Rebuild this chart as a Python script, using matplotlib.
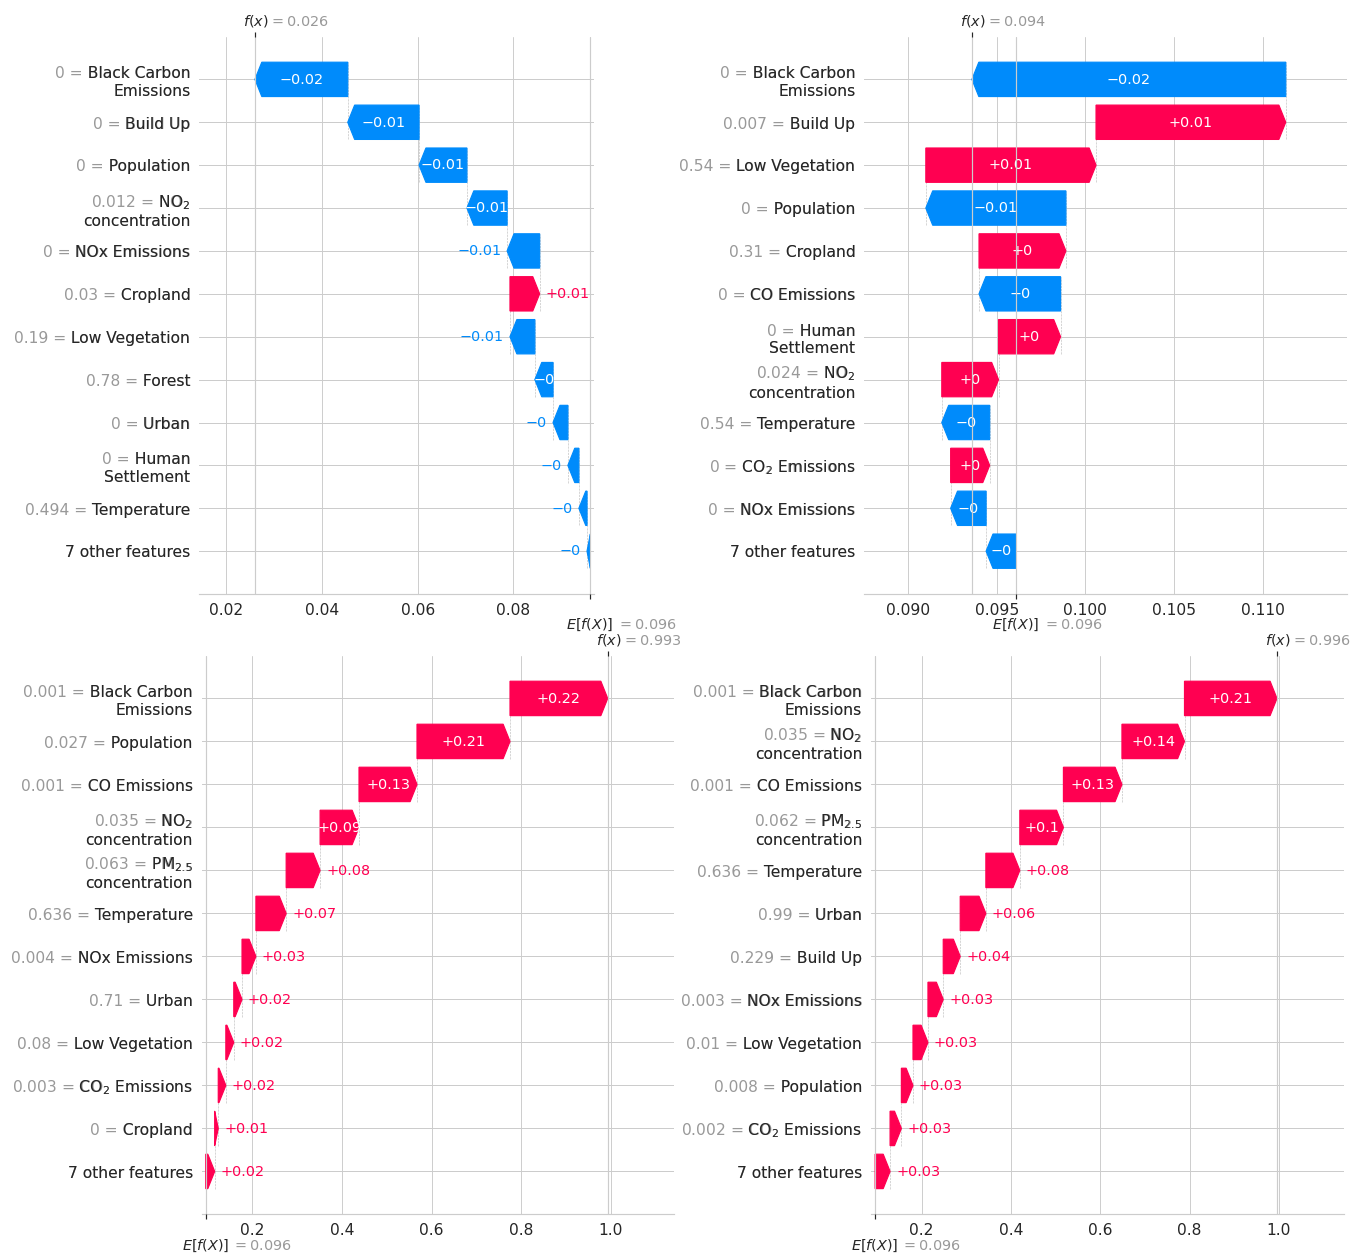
import re
import matplotlib
matplotlib.use("Agg")
import matplotlib.pyplot as plt
import numpy as np

plt.style.use("seaborn-v0_8-whitegrid")
plt.rcParams["font.family"] = "DejaVu Sans"
plt.rcParams["mathtext.fontset"] = "dejavusans"

RED = "#ff0051"
BLUE = "#008bfb"
GRAY = "#999999"
DARK = "#262626"

base_value = 0.0961
n_other = 7

# panel a (top left) - rows listed top to bottom
names_a = ["Black Carbon\nEmissions", "Build Up", "Population", "NO$_2$\nconcentration",
           "NOx Emissions", "Cropland", "Low Vegetation", "Forest", "Urban",
           "Human\nSettlement", "Temperature"]
data_a = ["0", "0", "0", "0.012", "0", "0.03", "0.19", "0.78", "0", "0", "0.494"]
shap_a = [-0.0194, -0.0149, -0.0100, -0.0084, -0.0068, 0.0062, -0.0052, -0.0038,
          -0.0031, -0.0023, -0.0017]
other_a = -0.0007

# panel b (top right)
names_b = ["Black Carbon\nEmissions", "Build Up", "Low Vegetation", "Population", "Cropland",
           "CO Emissions", "Human\nSettlement", "NO$_2$\nconcentration", "Temperature",
           "CO$_2$ Emissions", "NOx Emissions"]
data_b = ["0", "0.007", "0.54", "0", "0.31", "0", "0", "0.024", "0.54", "0", "0"]
shap_b = [-0.0177, 0.0107, 0.0096, -0.0079, 0.0049, -0.0046, 0.0035, 0.0032, -0.0027,
          0.0022, -0.0020]
other_b = -0.0017

# panel c (bottom left)
names_c = ["Black Carbon\nEmissions", "Population", "CO Emissions", "NO$_2$\nconcentration",
           "PM$_{2.5}$\nconcentration", "Temperature", "NOx Emissions", "Urban",
           "Low Vegetation", "CO$_2$ Emissions", "Cropland"]
data_c = ["0.001", "0.027", "0.001", "0.035", "0.063", "0.636", "0.004", "0.71", "0.08",
          "0.003", "0"]
shap_c = [0.2180, 0.2075, 0.1294, 0.0868, 0.0757, 0.0675, 0.0310, 0.0184, 0.0177, 0.0169,
          0.0080]
other_c = 0.0199

# panel d (bottom right)
names_d = ["Black Carbon\nEmissions", "NO$_2$\nconcentration", "CO Emissions",
           "PM$_{2.5}$\nconcentration", "Temperature", "Urban", "Build Up", "NOx Emissions",
           "Low Vegetation", "Population", "CO$_2$ Emissions"]
data_d = ["0.001", "0.035", "0.001", "0.062", "0.636", "0.99", "0.229", "0.003", "0.01",
          "0.008", "0.002"]
shap_d = [0.2070, 0.1400, 0.1310, 0.0976, 0.0760, 0.0574, 0.0380, 0.0342, 0.0335, 0.0260,
          0.0253]
other_d = 0.0335

W, H, DPI = 1353, 1255, 86


def format_value(v, fmt):
    s = fmt % v
    s = re.sub(r"\.?0+$", "", s)
    if s[0] == "-":
        s = "\u2212" + s[1:]
    return s


def px_box(left, right, top, bottom):
    return [left / W, 1 - bottom / H, (right - left) / W, (bottom - top) / H]


def waterfall(ax, values, names, data, other, base):
    fig = ax.figure
    num = len(values) + 1
    rng = list(range(num - 1, -1, -1))
    fx = base + sum(values) + other
    loc = fx
    pos_lefts, pos_inds, pos_widths = [], [], []
    neg_lefts, neg_inds, neg_widths = [], [], []
    labels = [""] * num

    for i, sval in enumerate(values):
        loc -= sval
        if sval >= 0:
            pos_inds.append(rng[i])
            pos_widths.append(sval)
            pos_lefts.append(loc)
        else:
            neg_inds.append(rng[i])
            neg_widths.append(sval)
            neg_lefts.append(loc)
        ax.plot([loc, loc], [rng[i] - 1.4, rng[i] + 0.4], color="#bbbbbb",
                linestyle="--", linewidth=0.5, zorder=-1)
        labels[rng[i]] = data[i] + " = " + names[i]

    # grouped bar for the remaining features
    labels[0] = "%d other features" % n_other
    remaining = base - loc
    if remaining < 0:
        pos_inds.append(0)
        pos_widths.append(-remaining)
        pos_lefts.append(loc + remaining)
    else:
        neg_inds.append(0)
        neg_widths.append(-remaining)
        neg_lefts.append(loc + remaining)

    pos_lefts, pos_widths = np.array(pos_lefts), np.array(pos_widths)
    neg_lefts, neg_widths = np.array(neg_lefts), np.array(neg_widths)
    points = list(pos_lefts) + list(pos_lefts + pos_widths) + list(neg_lefts) + list(neg_lefts + neg_widths)
    dataw = max(points) - min(points)

    # invisible bars only used to size the x axis
    pad = np.array([0.1 * dataw if w < 1 else 0 for w in pos_widths])
    ax.barh(pos_inds, pos_widths + pad + 0.02 * dataw, left=pos_lefts - 0.01 * dataw,
            color=RED, alpha=0)
    pad = np.array([-0.1 * dataw if -w < 1 else 0 for w in neg_widths])
    ax.barh(neg_inds, neg_widths + pad - 0.02 * dataw, left=neg_lefts + 0.01 * dataw,
            color=BLUE, alpha=0)

    xmin, xmax = ax.get_xlim()
    ax.set_xlim(xmin, xmax)
    bbox = ax.get_window_extent().transformed(fig.dpi_scale_trans.inverted())
    to_x = (xmax - xmin) / bbox.width
    hl = to_x * 0.08
    renderer = fig.canvas.get_renderer()
    slack = 1.22

    for left, y, w in zip(pos_lefts, pos_inds, pos_widths):
        arr = ax.arrow(left, y, max(w - hl, 1e-6), 0, head_length=min(w, hl),
                       color=RED, width=0.8, head_width=0.8)
        lab = format_value(w, "%+0.02f")
        txt = ax.text(left + 0.5 * w, y, lab, ha="center", va="center", color="white", fontsize=12)
        if txt.get_window_extent(renderer).width > slack * arr.get_window_extent(renderer).width:
            txt.remove()
            ax.text(left + 5 / 72 * to_x + w, y, lab, ha="left", va="center",
                    color=RED, fontsize=12)

    for left, y, w in zip(neg_lefts, neg_inds, neg_widths):
        arr = ax.arrow(left, y, -max(-w - hl, 1e-6), 0, head_length=min(-w, hl),
                       color=BLUE, width=0.8, head_width=0.8)
        lab = format_value(w, "%+0.02f")
        txt = ax.text(left + 0.5 * w, y, lab, ha="center", va="center", color="white", fontsize=12)
        if txt.get_window_extent(renderer).width > slack * arr.get_window_extent(renderer).width:
            txt.remove()
            ax.text(left - 5 / 72 * to_x + w, y, lab, ha="right", va="center",
                    color=BLUE, fontsize=12)

    # y labels twice: grey with value, then black name on top
    ax.set_yticks(list(range(num)) + list(np.arange(num) + 1e-8))
    ax.set_yticklabels(labels + [l.split("=")[-1] for l in labels], fontsize=13)
    for i, t in enumerate(ax.get_yticklabels()):
        t.set_color(GRAY if i < num else DARK)

    for i in range(num):
        ax.axhline(i, color="#cccccc", lw=0.5, dashes=(1, 5), zorder=-1)
    ax.axvline(base, 0, 1 / num, color="#bbbbbb", linestyle="--", linewidth=0.5, zorder=-1)
    ax.axvline(fx, 0, 1, color="#bbbbbb", linestyle="--", linewidth=0.5, zorder=-1)

    ax.yaxis.set_ticks_position("none")
    ax.tick_params(axis="y", pad=7.5)
    ax.tick_params(axis="x", labelsize=13, length=0, pad=7.5, colors=DARK)
    for s in ["left", "top", "right"]:
        ax.spines[s].set_visible(False)

    # E[f(X)] and f(x) tick marks
    ax2 = ax.twiny()
    ax2.set_xlim(xmin, xmax)
    ax2.set_xticks([base])
    ax2.set_xticklabels([""])
    ax2.xaxis.set_ticks_position("bottom")
    ax2.tick_params(axis="x", length=4, width=1, color=DARK)
    ax3 = ax.twiny()
    ax3.set_xlim(xmin, xmax)
    ax3.set_xticks([fx])
    ax3.set_xticklabels([""])
    ax3.tick_params(axis="x", length=4, width=1, color=DARK)
    for a in (ax2, ax3):
        a.grid(True, axis="x", color=".8", lw=1)
        for s in a.spines.values():
            s.set_visible(False)

    kw = dict(xycoords=("data", "axes fraction"), textcoords="offset points",
              fontsize=12, va="baseline", annotation_clip=False)
    ax.annotate("$E[f(X)]$", xy=(base, 0), xytext=(-20, -29.5), ha="left", color=DARK, **kw)
    ax.annotate("$ = " + format_value(base, "%0.03f") + "$", xy=(base, 0),
                xytext=(22, -29.5), ha="left", color=GRAY, **kw)
    ax.annotate("$f(x)$", xy=(fx, 1), xytext=(-10, 9.5), ha="left", color=DARK, **kw)
    ax.annotate("$ = " + format_value(fx, "%0.03f") + "$", xy=(fx, 1),
                xytext=(12, 9.5), ha="left", color=GRAY, **kw)


fig = plt.figure(figsize=((W + 0.3) / DPI, (H + 0.3) / DPI), dpi=DPI)
ax_a = fig.add_axes(px_box(199.2, 593.6, 37.2, 593.8))
ax_b = fig.add_axes(px_box(864.1, 1347.0, 37.2, 593.8))
ax_c = fig.add_axes(px_box(201.7, 674.3, 656.0, 1214.0))
ax_d = fig.add_axes(px_box(870.9, 1343.4, 656.0, 1214.0))

waterfall(ax_a, shap_a, names_a, data_a, other_a, base_value)
waterfall(ax_b, shap_b, names_b, data_b, other_b, base_value)
waterfall(ax_c, shap_c, names_c, data_c, other_c, base_value)
waterfall(ax_d, shap_d, names_d, data_d, other_d, base_value)

fig.savefig("out.png", dpi=DPI)
